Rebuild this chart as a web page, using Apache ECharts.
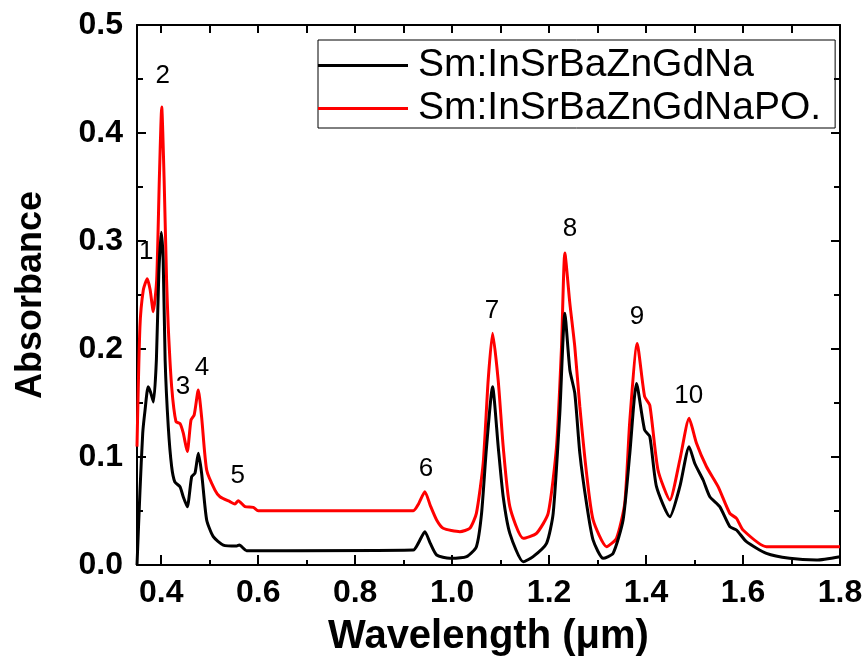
<!DOCTYPE html>
<html><head><meta charset="utf-8">
<script src="https://cdn.jsdelivr.net/npm/echarts@6/dist/echarts.min.js"></script>
<style>html,body{margin:0;padding:0;background:#fff}#c{width:865px;height:657px}</style>
</head><body><div id="c"></div>
<script>
const naWavelength = [0.350,0.356,0.3618,0.3665,0.373,0.378,0.384,0.390,0.395,0.400,0.404,0.408,0.4145,0.4215,0.428,0.4387,0.4455,0.4537,0.4628,0.4696,0.4765,0.4833,0.4937,0.5073,0.528,0.5556,0.561,0.576,0.597,0.920,0.930,0.9438,0.955,0.968,0.995,1.0298,1.050,1.0607,1.071,1.0834,1.095,1.1053,1.119,1.1466,1.167,1.1947,1.2084,1.222,1.2325,1.2428,1.253,1.2634,1.2772,1.2908,1.3115,1.332,1.3526,1.3665,1.3803,1.397,1.4077,1.4215,1.449,1.4696,1.4888,1.5005,1.5177,1.5315,1.552,1.5727,1.5865,1.607,1.6483,1.696,1.7514,1.800];
const naAbsorbance = [0.000,0.067,0.122,0.143,0.165,0.160,0.151,0.190,0.270,0.308,0.282,0.190,0.128,0.091,0.077,0.0725,0.063,0.054,0.0818,0.085,0.1034,0.085,0.0417,0.0262,0.0185,0.0176,0.0185,0.0133,0.0133,0.0139,0.020,0.0309,0.020,0.0093,0.0062,0.0077,0.017,0.0478,0.1096,0.165,0.1096,0.0632,0.0293,0.003,0.0077,0.020,0.0478,0.140,0.233,0.1806,0.159,0.1034,0.057,0.023,0.0062,0.0108,0.0417,0.1034,0.168,0.125,0.119,0.0725,0.0447,0.0725,0.1096,0.094,0.0787,0.0632,0.054,0.0355,0.0324,0.0216,0.0108,0.0062,0.0046,0.0077];
const poWavelength = [0.350,0.356,0.363,0.3712,0.377,0.3836,0.3906,0.396,0.401,0.406,0.411,0.4145,0.4215,0.4304,0.4387,0.4455,0.4537,0.4613,0.468,0.4764,0.4833,0.4937,0.5108,0.5211,0.5417,0.552,0.5589,0.5727,0.5898,0.600,0.920,0.930,0.9438,0.955,0.968,0.9815,1.016,1.0366,1.050,1.064,1.0743,1.0834,1.095,1.1053,1.119,1.1466,1.174,1.198,1.2153,1.2256,1.2325,1.2428,1.253,1.2634,1.2772,1.2908,1.3185,1.339,1.356,1.3665,1.3817,1.397,1.4077,1.4246,1.449,1.4696,1.4888,1.504,1.5247,1.5486,1.5727,1.5865,1.600,1.6483,1.800];
const poAbsorbance = [0.1096,0.220,0.2546,0.265,0.255,0.2346,0.264,0.356,0.424,0.356,0.264,0.220,0.165,0.1327,0.131,0.122,0.105,0.134,0.139,0.162,0.137,0.088,0.0694,0.0632,0.0586,0.0565,0.0595,0.054,0.0534,0.0503,0.0503,0.056,0.0679,0.055,0.0417,0.034,0.0309,0.034,0.0478,0.094,0.171,0.2145,0.171,0.1096,0.054,0.0247,0.0293,0.0478,0.1096,0.202,0.289,0.2423,0.202,0.1466,0.085,0.0417,0.017,0.0247,0.057,0.134,0.205,0.156,0.148,0.088,0.0602,0.0972,0.1358,0.1127,0.091,0.0725,0.0478,0.0432,0.0324,0.017,0.017];
const peakLabels = ['1','2','3','4','5','6','7','8','9','10'];
const peakLabelX = [0.369,0.403,0.445,0.484,0.558,0.946,1.082,1.243,1.381,1.488];
const peakLabelY = [0.290,0.453,0.165,0.183,0.083,0.089,0.235,0.311,0.230,0.157];
const xMajorTicks = [0.4,0.6,0.8,1.0,1.2,1.4,1.6,1.8];
const xMinorTicks = [0.5,0.7,0.9,1.1,1.3,1.5,1.7];
const xAllTicks = [0.4,0.5,0.6,0.7,0.8,0.9,1.0,1.1,1.2,1.3,1.4,1.5,1.6,1.7,1.8];
const seriesNames = ['Sm:InSrBaZnGdNa','Sm:InSrBaZnGdNaPO.'];

const FONT = 'Arial, "Liberation Sans", sans-serif';
const zip = (xs, ys) => xs.map((x, i) => [x, ys[i]]);
const chart = echarts.init(document.getElementById('c'), null, {renderer: 'canvas'});
const gridRect = () => ({left: 137, right: 25, top: 25, bottom: 92, outerBoundsMode: 'none'});
const blk = () => ({color: '#000', width: 2});
chart.setOption({
  animation: false,
  backgroundColor: '#fff',
  grid: [gridRect(), gridRect()],
  legend: {
    data: seriesNames, orient: 'vertical', left: 318, top: 40,
    icon: 'rect', itemWidth: 90, itemHeight: 3, itemGap: 4,
    borderColor: '#000', borderWidth: 1, padding: [6, 14, 0, 0],
    textStyle: {fontFamily: FONT, fontSize: 39, color: '#000', padding: [0, 0, 0, 5], lineHeight: 38}
  },
  xAxis: [
    {type: 'value', gridIndex: 0, position: 'bottom', min: 0.35, max: 1.8,
     axisLine: {show: true, onZero: false, lineStyle: blk()},
     axisTick: {show: true, inside: true, length: 10, customValues: xMajorTicks, lineStyle: blk()},
     axisLabel: {customValues: xMajorTicks, formatter: v => v.toFixed(1), fontFamily: FONT, fontSize: 32, fontWeight: 'bold', color: '#000', margin: 12},
     splitLine: {show: false},
     name: 'Wavelength (μm)', nameLocation: 'middle', nameGap: 52,
     nameTextStyle: {fontFamily: FONT, fontSize: 40, fontWeight: 'bold', color: '#000'}},
    {type: 'value', gridIndex: 0, position: 'top', min: 0.35, max: 1.8,
     axisLine: {show: true, onZero: false, lineStyle: blk()},
     axisTick: {show: true, inside: true, length: 8, customValues: xAllTicks, lineStyle: blk()},
     axisLabel: {show: false}, splitLine: {show: false}},
    {type: 'value', gridIndex: 1, position: 'bottom', min: 0.35, max: 1.8,
     axisLine: {show: false, onZero: false},
     axisTick: {show: true, inside: true, length: 5, customValues: xMinorTicks, lineStyle: blk()},
     axisLabel: {show: false}, splitLine: {show: false}}
  ],
  yAxis: [
    {type: 'value', gridIndex: 0, position: 'left', min: 0, max: 0.5, interval: 0.1,
     axisLine: {show: true, onZero: false, lineStyle: blk()},
     axisTick: {show: true, inside: true, length: 9, lineStyle: blk()},
     minorTick: {show: true, splitNumber: 2, length: 6, lineStyle: blk()},
     axisLabel: {formatter: v => v.toFixed(1), fontFamily: FONT, fontSize: 32, fontWeight: 'bold', color: '#000', margin: 14},
     splitLine: {show: false}, minorSplitLine: {show: false},
     name: 'Absorbance', nameLocation: 'middle', nameGap: 88, nameRotate: 90,
     nameTextStyle: {fontFamily: FONT, fontSize: 36, fontWeight: 'bold', color: '#000'}},
    {type: 'value', gridIndex: 0, position: 'right', min: 0, max: 0.5, interval: 0.1,
     axisLine: {show: true, onZero: false, lineStyle: blk()},
     axisTick: {show: true, inside: true, length: 9, lineStyle: blk()},
     minorTick: {show: true, splitNumber: 2, length: 6, lineStyle: blk()},
     axisLabel: {show: false}, splitLine: {show: false}},
    {type: 'value', gridIndex: 1, min: 0, max: 0.5, show: false}
  ],
  series: [
    {name: seriesNames[0], type: 'line', xAxisIndex: 0, yAxisIndex: 0, data: zip(naWavelength, naAbsorbance),
     symbol: 'none', smooth: 0.2, lineStyle: {color: '#000', width: 3}, itemStyle: {color: '#000'}, z: 3},
    {name: seriesNames[1], type: 'line', xAxisIndex: 0, yAxisIndex: 0, data: zip(poWavelength, poAbsorbance),
     symbol: 'none', smooth: 0.2, lineStyle: {color: '#ff0000', width: 3}, itemStyle: {color: '#ff0000'}, z: 2},
    {name: 'peaks', type: 'scatter', xAxisIndex: 0, yAxisIndex: 0, data: zip(peakLabelX, peakLabelY),
     symbolSize: 1, itemStyle: {color: 'transparent'}, silent: true, z: 5,
     label: {show: true, position: 'inside', formatter: p => peakLabels[p.dataIndex], fontFamily: FONT, fontSize: 26, color: '#000', opacity: 1}}
  ]
});
</script></body></html>
